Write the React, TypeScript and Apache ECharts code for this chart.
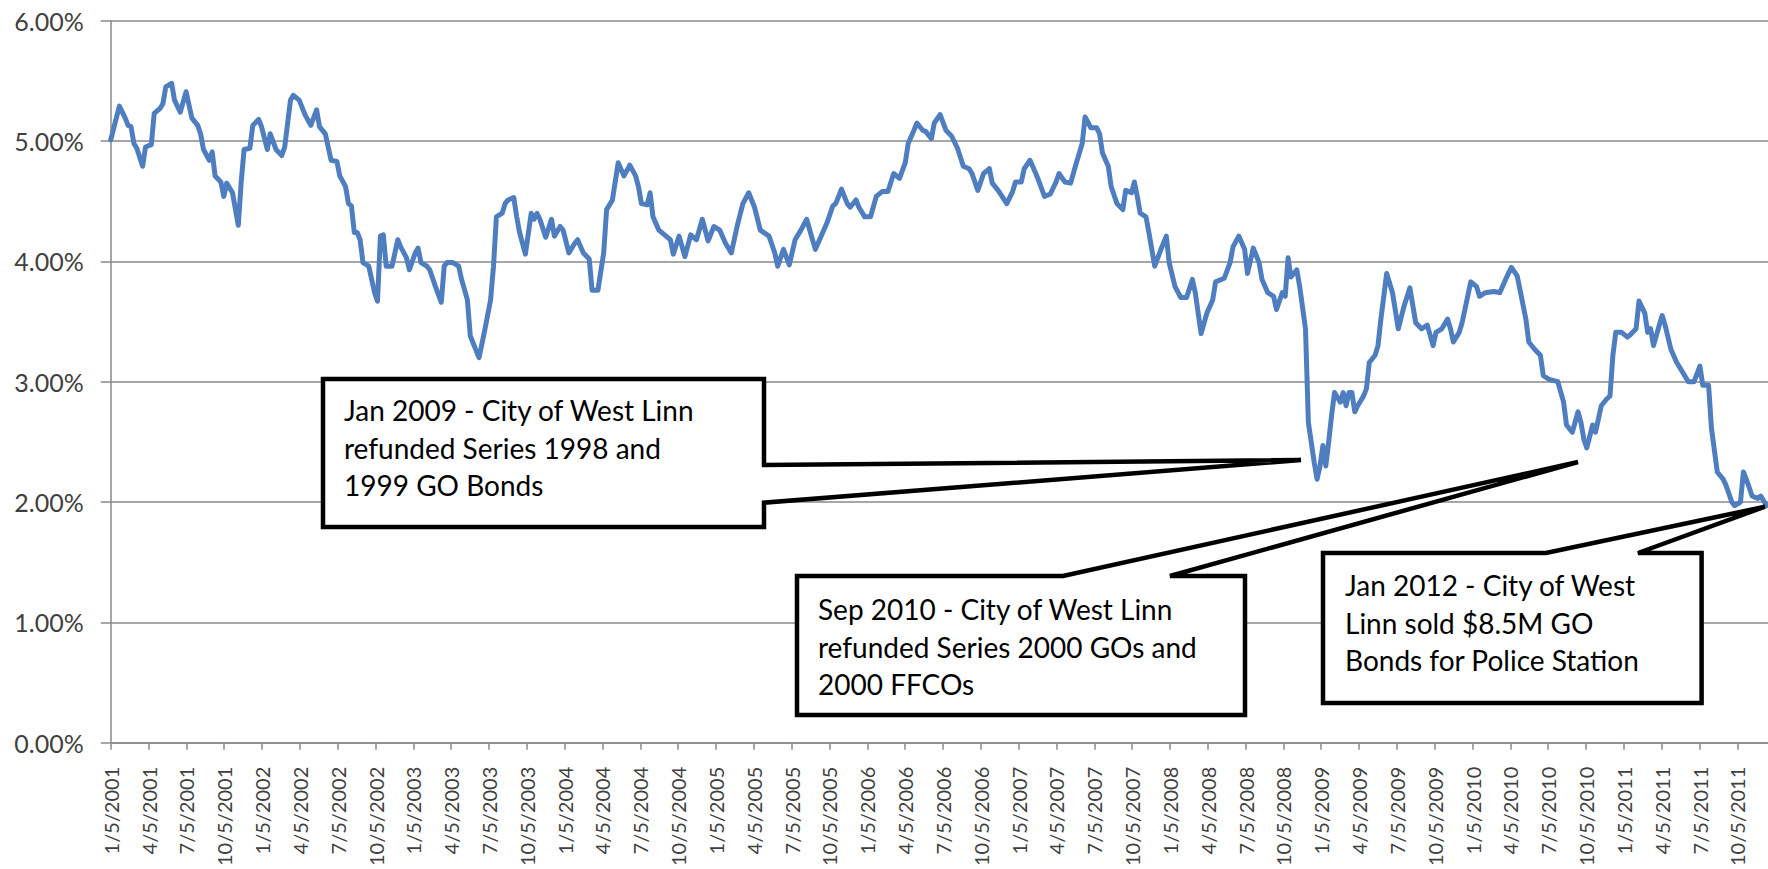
import React, { useEffect, useRef } from 'react';
import * as echarts from 'echarts';

// Quarterly tick labels of the date axis
const quarterLabels: string[] = [
  '1/5/2001', '4/5/2001', '7/5/2001', '10/5/2001',
  '1/5/2002', '4/5/2002', '7/5/2002', '10/5/2002',
  '1/5/2003', '4/5/2003', '7/5/2003', '10/5/2003',
  '1/5/2004', '4/5/2004', '7/5/2004', '10/5/2004',
  '1/5/2005', '4/5/2005', '7/5/2005', '10/5/2005',
  '1/5/2006', '4/5/2006', '7/5/2006', '10/5/2006',
  '1/5/2007', '4/5/2007', '7/5/2007', '10/5/2007',
  '1/5/2008', '4/5/2008', '7/5/2008', '10/5/2008',
  '1/5/2009', '4/5/2009', '7/5/2009', '10/5/2009',
  '1/5/2010', '4/5/2010', '7/5/2010', '10/5/2010',
  '1/5/2011', '4/5/2011', '7/5/2011', '10/5/2011',
];

const yTicks: number[] = [0, 1, 2, 3, 4, 5, 6];

// [weeks since 1/5/2001, yield %]
const rates2001_2002: [number, number][] = [
  [0, 5.01], [3, 5.29], [5, 5.19], [6, 5.13], [7, 5.12], [8, 4.98], [9, 4.94], [11, 4.79], [12, 4.95], [14, 4.97],
  [15, 5.23], [17, 5.27], [18, 5.31], [19, 5.45], [21, 5.48], [22, 5.34], [24, 5.24], [26, 5.41], [28, 5.19], [30, 5.13],
  [31, 5.06], [32, 4.93], [34, 4.84], [35, 4.91], [36, 4.71], [38, 4.66], [39, 4.54], [40, 4.65], [42, 4.57], [44, 4.30],
  [45, 4.66], [46, 4.93], [48, 4.94], [49, 5.13], [51, 5.18],
  [52, 5.12], [54, 4.93], [55, 5.06], [57, 4.93], [59, 4.88], [60, 4.95], [62, 5.34], [63, 5.38], [65, 5.34], [67, 5.22],
  [69, 5.13], [71, 5.26], [72, 5.12], [74, 5.06], [76, 4.84], [78, 4.83], [79, 4.71], [81, 4.62], [82, 4.48], [83, 4.46],
  [84, 4.24], [85, 4.24], [86, 4.18], [87, 3.99], [89, 3.96], [91, 3.74], [92, 3.67], [93, 4.21], [94, 4.22], [95, 3.96],
  [97, 3.96], [99, 4.18], [100, 4.12], [102, 4.03], [103, 3.93],
];

const rates2003_2004: [number, number][] = [
  [105, 4.07], [106, 4.11], [107, 3.99], [109, 3.96], [110, 3.93], [112, 3.79], [114, 3.66], [115, 3.96], [116, 3.99], [118, 3.99],
  [120, 3.96], [121, 3.85], [123, 3.68], [124, 3.38], [127, 3.20], [129, 3.43], [131, 3.68], [132, 3.96], [133, 4.37], [135, 4.40],
  [136, 4.48], [137, 4.51], [139, 4.53], [140, 4.37], [141, 4.24], [143, 4.06], [145, 4.40], [146, 4.35], [147, 4.40], [148, 4.35],
  [150, 4.20], [152, 4.35], [153, 4.21], [155, 4.29],
  [156, 4.26], [158, 4.07], [160, 4.15], [161, 4.18], [163, 4.07], [165, 4.02], [166, 3.76], [168, 3.76], [170, 4.07], [171, 4.43],
  [173, 4.51], [175, 4.82], [177, 4.71], [179, 4.80], [181, 4.71], [182, 4.62], [183, 4.48], [185, 4.47], [186, 4.57], [187, 4.37],
  [189, 4.26], [191, 4.22], [193, 4.18], [194, 4.06], [196, 4.21], [198, 4.04], [200, 4.22], [202, 4.18], [204, 4.35], [206, 4.17],
  [208, 4.29],
];

const rates2005_2006: [number, number][] = [
  [210, 4.26], [212, 4.15], [214, 4.07], [216, 4.29], [218, 4.48], [220, 4.57], [222, 4.45], [224, 4.26], [227, 4.21], [229, 4.07],
  [230, 3.96], [232, 4.10], [234, 3.97], [236, 4.18], [238, 4.26], [240, 4.35], [242, 4.18], [243, 4.10], [245, 4.21], [247, 4.32],
  [249, 4.46], [250, 4.48], [252, 4.60], [254, 4.48], [255, 4.45], [257, 4.51], [258, 4.45], [260, 4.37],
  [262, 4.37], [264, 4.54], [266, 4.58], [268, 4.58], [270, 4.73], [272, 4.69], [274, 4.82], [275, 4.98], [277, 5.09], [278, 5.15],
  [280, 5.09], [281, 5.08], [283, 5.02], [284, 5.15], [286, 5.22], [288, 5.09], [290, 5.04], [292, 4.94], [294, 4.79], [296, 4.77],
  [297, 4.73], [299, 4.59], [301, 4.73], [303, 4.77], [304, 4.65], [306, 4.59], [309, 4.48], [311, 4.58], [312, 4.66],
];

const rates2007_2008: [number, number][] = [
  [314, 4.66], [315, 4.77], [317, 4.84], [319, 4.73], [320, 4.67], [322, 4.54], [324, 4.56], [326, 4.66], [327, 4.73], [329, 4.66],
  [331, 4.65], [333, 4.82], [335, 4.98], [336, 5.20], [338, 5.11], [340, 5.11], [341, 5.06], [342, 4.90], [344, 4.79], [345, 4.62],
  [347, 4.48], [349, 4.43], [350, 4.59], [352, 4.57], [353, 4.66], [354, 4.54], [355, 4.40], [357, 4.37], [358, 4.24], [360, 3.96],
  [362, 4.09], [364, 4.21],
  [365, 3.99], [367, 3.79], [369, 3.70], [371, 3.70], [373, 3.85], [374, 3.74], [376, 3.40], [378, 3.57], [380, 3.68], [381, 3.83],
  [384, 3.86], [386, 3.99], [387, 4.12], [389, 4.21], [391, 4.10], [392, 3.90], [394, 4.11], [396, 3.99], [397, 3.85], [399, 3.74],
  [401, 3.71], [402, 3.60], [404, 3.74], [405, 3.71], [406, 4.03], [407, 3.87], [409, 3.93], [410, 3.79], [412, 3.44], [413, 2.66],
  [415, 2.33], [416, 2.19],
];

const rates2009_2011: [number, number][] = [
  [417, 2.30], [418, 2.47], [419, 2.30], [420, 2.50], [421, 2.72], [422, 2.91], [424, 2.83], [425, 2.91], [426, 2.80], [427, 2.91],
  [428, 2.91], [429, 2.75], [430, 2.80], [432, 2.88], [433, 2.94], [434, 3.16], [436, 3.22], [437, 3.30], [438, 3.52], [440, 3.90],
  [442, 3.74], [444, 3.44], [446, 3.63], [448, 3.78], [450, 3.49], [452, 3.44], [454, 3.47], [456, 3.30], [457, 3.41], [459, 3.44],
  [461, 3.52], [462, 3.44], [463, 3.33], [465, 3.41], [466, 3.49],
  [469, 3.83], [471, 3.79], [472, 3.71], [474, 3.74], [477, 3.75], [479, 3.74], [481, 3.85], [483, 3.95], [485, 3.88], [486, 3.76],
  [488, 3.52], [489, 3.33], [491, 3.27], [493, 3.22], [494, 3.05], [496, 3.02], [499, 3.00], [501, 2.83], [502, 2.64], [504, 2.58],
  [506, 2.75], [507, 2.66], [508, 2.52], [509, 2.45], [511, 2.64], [512, 2.58], [514, 2.80], [516, 2.86], [517, 2.88], [518, 3.22],
  [519, 3.41], [521, 3.41],
  [523, 3.37], [524, 3.39], [526, 3.44], [527, 3.67], [529, 3.57], [530, 3.41], [531, 3.44], [532, 3.30], [534, 3.47], [535, 3.55],
  [536, 3.47], [538, 3.27], [540, 3.16], [542, 3.08], [544, 3.00], [546, 3.00], [548, 3.13], [549, 2.97], [551, 2.97], [552, 2.61],
  [554, 2.25], [556, 2.19], [557, 2.14], [559, 2.00], [560, 1.97], [562, 2.00], [563, 2.25], [564, 2.19], [566, 2.05], [568, 2.03],
  [569, 2.05], [571, 1.97],
];

const callout1: string[] = ['Jan 2009 - City of West Linn', 'refunded Series 1998 and', '1999 GO Bonds'];
const callout2: string[] = ['Sep 2010 - City of West Linn', 'refunded Series 2000 GOs and', '2000 FFCOs'];
const callout3: string[] = ['Jan 2012 - City of West', 'Linn sold $8.5M GO', 'Bonds for Police Station'];

const DAYS_PER_QUARTER = 91.3125;
const AXIS_END_QUARTERS = 43.81;

const GRID_LEFT = 110.7;
const GRID_TOP = 20.7;
const GRID_BOTTOM_Y = 744.5;

export default function App() {
  const ref = useRef<HTMLDivElement>(null);

  useEffect(() => {
    document.body.style.margin = '0';
    const chart = echarts.init(ref.current as HTMLDivElement, null, { renderer: 'svg' });

    const allRates = [...rates2001_2002, ...rates2003_2004, ...rates2005_2006, ...rates2007_2008, ...rates2009_2011];
    const lineData = allRates.map(([w, r]) => [(w * 7) / DAYS_PER_QUARTER, r]);

    const axisGray = '#8a8a8a';
    const labelColor = '#3f3f3f';
    const font = 'Lato, "Noto Sans", sans-serif';

    const boxStyle = { fill: '#ffffff', stroke: '#000000', lineWidth: 4.5, lineJoin: 'miter' as const };
    const textEl = (text: string, x: number, y: number) => ({
      type: 'text',
      z: 101,
      style: { text, x, y, fill: '#000', fontSize: 28, fontFamily: font, verticalAlign: 'middle', align: 'left' },
    });
    const lines = (arr: string[], x: number, y0: number) => arr.map((t, i) => textEl(t, x, y0 + i * 37.5));

    chart.setOption({
      animation: false,
      backgroundColor: '#ffffff',
      grid: { left: GRID_LEFT, top: GRID_TOP, right: 0, bottom: 869 - GRID_BOTTOM_Y, containLabel: false },
      xAxis: {
        type: 'value',
        min: 0,
        max: AXIS_END_QUARTERS,
        interval: 1,
        splitLine: { show: false },
        axisLine: { show: true, lineStyle: { color: axisGray, width: 1.5 } },
        axisTick: { show: true, length: 7, lineStyle: { color: axisGray, width: 1.5 } },
        axisLabel: {
          rotate: 90,
          margin: 24,
          fontFamily: font,
          fontSize: 20,
          color: labelColor,
          showMaxLabel: false,
          formatter: (v: number) => {
            const k = Math.round(v);
            return Math.abs(v - k) < 1e-6 && quarterLabels[k] ? quarterLabels[k] : '';
          },
        },
      },
      yAxis: {
        type: 'value',
        min: yTicks[0],
        max: yTicks[yTicks.length - 1],
        interval: 1,
        axisLine: { show: true, lineStyle: { color: axisGray, width: 1.5 } },
        axisTick: { show: true, length: 10, lineStyle: { color: axisGray, width: 1.5 } },
        splitLine: { show: true, lineStyle: { color: axisGray, width: 1.5 } },
        axisLabel: {
          margin: 27,
          fontFamily: font,
          fontSize: 25,
          color: labelColor,
          formatter: (v: number) => v.toFixed(2) + '%',
        },
      },
      series: [
        {
          type: 'line',
          data: lineData,
          showSymbol: false,
          symbol: 'none',
          lineStyle: { color: '#4F7EC0', width: 5, join: 'round', cap: 'round' },
          z: 3,
        },
      ],
      graphic: [
        {
          type: 'polygon',
          z: 100,
          shape: { points: [[323, 379], [764, 379], [764, 465], [1301, 460], [764, 502.7], [764, 527], [323, 527]] },
          style: boxStyle,
        },
        ...lines(callout1, 344, 410),
        {
          type: 'polygon',
          z: 100,
          shape: { points: [[797, 576], [1063, 576], [1578, 462], [1170, 576], [1245, 576], [1245, 715], [797, 715]] },
          style: boxStyle,
        },
        ...lines(callout2, 818, 609),
        {
          type: 'polygon',
          z: 100,
          shape: { points: [[1323, 553], [1546, 553], [1765, 506.7], [1638, 553], [1701.6, 553], [1701.6, 703], [1323, 703]] },
          style: boxStyle,
        },
        ...lines(callout3, 1345, 585),
      ],
    });

    return () => chart.dispose();
  }, []);

  return (
    <div
      ref={ref}
      style={{ position: 'fixed', left: 0, top: 0, width: 1768, height: 869, background: '#fff' }}
    />
  );
}
